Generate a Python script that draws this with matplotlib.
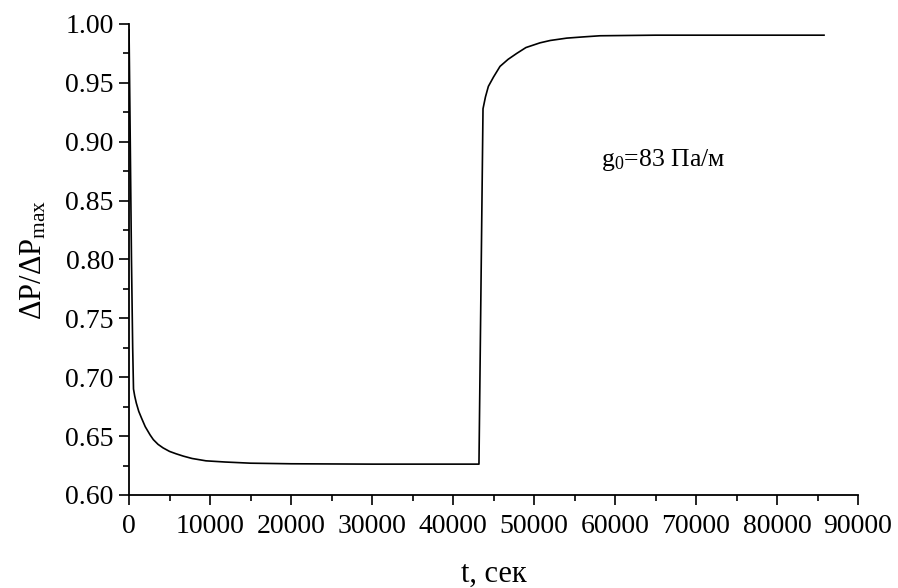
import matplotlib
matplotlib.use('Agg')
import matplotlib.pyplot as plt
from matplotlib.ticker import MultipleLocator, FormatStrFormatter

plt.rcParams['font.family'] = ['Liberation Serif', 'DejaVu Serif']
plt.rcParams['mathtext.fontset'] = 'custom'
plt.rcParams['mathtext.rm'] = 'Liberation Serif'
plt.rcParams['mathtext.it'] = 'Liberation Serif:italic'

# значения
t_sec = [0, 150, 300, 450, 550, 700, 900, 1200, 1560, 2000, 2600, 3000, 3580,
         4200, 5000, 5800, 6700, 7780, 9500, 11850, 15000, 20000, 30000, 43200,
         43700, 44000, 44360, 45000, 45800, 46800, 47860, 49000, 50740, 52000,
         54040, 56000, 58150, 65000, 75000, 85800]
dp_ratio = [0.995, 0.900, 0.800, 0.725, 0.690, 0.684, 0.678, 0.671, 0.665, 0.658,
            0.651, 0.647, 0.643, 0.640, 0.637, 0.635, 0.633, 0.631, 0.629, 0.628,
            0.627, 0.6265, 0.6262, 0.6262,
            0.928, 0.938, 0.947, 0.955, 0.964, 0.970, 0.975, 0.980, 0.984, 0.986,
            0.988, 0.989, 0.990, 0.9905, 0.9905, 0.9905]

fig = plt.figure(figsize=(8.98, 5.88), dpi=100)
ax = fig.add_axes([0.1437, 0.1582, 0.8118, 0.8010])

ax.plot(t_sec, dp_ratio, color='black', lw=1.2)

ax.set_xlim(0, 90000)
ax.set_ylim(0.60, 1.00)
ax.xaxis.set_major_locator(MultipleLocator(10000))
ax.xaxis.set_minor_locator(MultipleLocator(5000))
ax.yaxis.set_major_locator(MultipleLocator(0.05))
ax.yaxis.set_minor_locator(MultipleLocator(0.025))
ax.yaxis.set_major_formatter(FormatStrFormatter('%.2f'))

for s in ['top', 'right']:
    ax.spines[s].set_visible(False)
for s in ['left', 'bottom']:
    ax.spines[s].set_linewidth(1.3)

ax.tick_params(which='major', direction='out', length=7, width=1.2, labelsize=20)
ax.tick_params(axis='x', which='major', pad=7)
ax.tick_params(axis='y', which='major', pad=4)
ax.tick_params(which='minor', direction='out', length=4, width=1.2)

ax.set_xlabel('t, сек', fontsize=22, labelpad=15)
ax.set_ylabel(r'ΔP/ΔP$_{\mathrm{max}}$', fontsize=22, labelpad=12)

ax.text(58300, 0.8845, r'g$_{\mathrm{0}}$=83 Па/м', fontsize=18.5, va='center', ha='left')

fig.savefig('out.png', dpi=100)
